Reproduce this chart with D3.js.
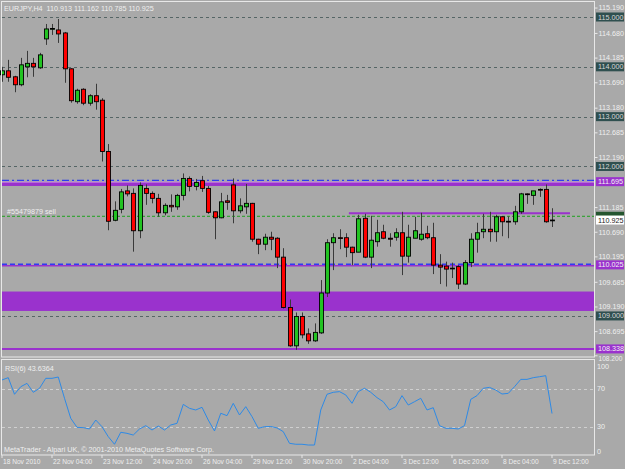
<!DOCTYPE html>
<html><head><meta charset="utf-8">
<script src="https://cdn.jsdelivr.net/npm/d3@7/dist/d3.min.js"></script>
<style>body{margin:0;background:#a9a9a9}svg{display:block}</style>
</head><body><svg id="c" width="625" height="469"></svg>
<script>
// ---- data ----
const opens = [113.84,113.92,113.80,113.64,114.00,114.07,113.98,114.56,114.76,114.74,114.68,113.96,113.30,113.55,113.27,113.42,113.33,112.30,110.92,111.14,111.51,111.46,110.71,111.56,111.46,111.36,111.07,111.22,111.19,111.42,111.76,111.60,111.715,111.56,111.09,110.97,111.31,111.63,111.11,111.19,111.26,110.54,110.44,110.58,110.56,110.18,109.17,108.40,108.99,108.64,108.50,108.66,109.46,110.47,110.57,110.57,110.38,110.28,110.96,110.18,110.49,110.69,110.56,110.58,110.67,110.20,110.56,110.54,110.65,110.57,110.02,110.00,109.96,109.99,109.64,110.07,110.54,110.69,110.74,110.69,110.99,110.90,110.89,111.09,111.45,111.42,111.54,111.54,110.913];
const highs = [114.00,114.14,113.82,114.18,114.32,114.18,114.28,114.86,114.86,114.96,114.70,113.97,113.56,113.57,113.45,113.66,113.37,112.45,111.30,111.55,111.62,111.56,111.68,111.64,111.50,111.45,111.26,111.44,111.45,111.86,111.80,111.75,111.81,111.61,111.10,111.47,111.43,111.76,111.36,111.65,111.27,110.55,110.65,110.69,110.58,110.36,109.33,109.07,109.07,108.75,108.85,109.72,110.54,110.66,110.74,110.66,110.39,111.03,111.05,111.01,110.93,110.83,110.66,110.76,111.09,110.83,110.99,111.07,110.81,110.87,110.24,110.09,110.07,110.02,110.12,110.66,110.87,111.05,111.09,111.03,111.00,111.00,111.21,111.47,111.46,111.51,111.56,111.64,111.162];
const lows = [113.70,113.70,113.49,113.61,113.79,113.80,113.96,114.44,114.64,114.48,113.68,113.28,113.26,113.23,113.22,113.14,112.10,110.72,110.90,111.06,111.40,110.29,110.56,111.23,111.26,110.99,111.02,111.09,111.13,111.32,111.50,111.52,111.49,111.05,110.54,110.96,111.13,110.86,111.06,111.05,110.49,110.24,110.32,110.32,109.96,109.15,108.38,108.32,108.55,108.44,108.48,108.64,109.38,109.92,110.34,110.18,110.02,110.28,110.16,109.96,110.39,110.54,110.39,110.51,109.82,110.07,110.56,110.51,110.54,109.84,109.64,109.59,109.76,109.54,109.62,109.98,110.27,110.56,110.49,110.49,110.60,110.56,110.83,111.05,111.25,111.23,111.39,110.87,110.785];
const closes = [113.92,113.79,113.64,114.04,114.07,114.00,114.24,114.76,114.77,114.66,113.96,113.32,113.53,113.27,113.42,113.30,112.30,110.90,111.12,111.49,111.45,110.71,111.62,111.46,111.36,111.07,111.22,111.19,111.42,111.76,111.60,111.68,111.56,111.08,110.97,111.29,111.28,111.11,111.21,111.26,110.54,110.44,110.58,110.54,110.18,109.17,108.40,108.99,108.62,108.50,108.67,109.46,110.47,110.57,110.56,110.38,110.27,110.95,110.18,110.52,110.67,110.56,110.54,110.67,110.20,110.58,110.71,110.64,110.57,110.02,109.98,109.94,109.95,109.64,110.07,110.54,110.67,110.74,110.69,110.99,110.89,110.89,111.09,111.45,111.44,111.51,111.53,110.89,110.925];
const rsi = [79,81.4,63.9,71.9,75.4,66,70.2,80.7,80.7,82.1,59.7,38.6,29.1,28.8,27.4,36.8,29.8,19.3,11.3,23.9,22.8,21,27.4,30.9,26.3,30.5,26.3,31.6,33.3,53.3,49.1,47.4,50.2,36.8,25.3,43.9,41.4,54.4,42.1,50.9,40.4,28.1,29.8,30,28.5,24.6,12.3,11.3,11.3,10.5,10.5,47.4,63.9,66,66.7,63.2,54.4,66.7,70.2,66,60.4,56.1,47.4,50.9,62.5,52.6,56.1,59.7,47.4,49.8,30.9,28.1,28.1,27.4,30.9,58.6,62.5,70.2,71.2,68.4,64.2,64.9,71.9,79.6,79.6,81.4,82.4,83.5,43.6364];
const timeTickIdx = [0,8,16,24,32,40,48,56,64,72,80,88];
const timeTickLbl = ["18 Nov 2010","22 Nov 04:00","23 Nov 12:00","24 Nov 20:00","26 Nov 04:00","29 Nov 12:00","30 Nov 20:00","2 Dec 04:00","3 Dec 12:00","6 Dec 20:00","8 Dec 04:00","9 Dec 12:00"];
const priceTicks = [115.190,114.680,114.185,113.690,113.180,112.685,112.190,111.185,110.690,110.195,109.685,109.190,108.695];
const bottomTick = 108.200;
const grayLevels = [115.000,114.000,113.000,112.000,109.000];
const purpleLevels = [111.695,110.025,108.338];
const zoneLow = 109.10, zoneHigh = 109.49;
const sellLevel = 111.000, trendLevel = 111.06, trendStart = 55.5;
const bid = 110.925;
const rsiTicks = [100,70,30,0];

// ---- drawing ----
const svg = d3.select('#c');
const FONT = "'Liberation Sans', Arial, sans-serif";
const W0 = 2, W1 = 594.5;
const x = d3.scaleLinear().domain([0, 88]).range([2, 552]);
const y = d3.scaleLinear().domain([108.2, 115]).range([355.8, 17]);
const yr = d3.scaleLinear().domain([0, 100]).range([455, 360]);
const PURPLE = '#9a32cd', BLUE = '#2f3cf0', SLATE = '#2f4f4f';
const TXT = '#efefef';

svg.append('rect').attr('width',625).attr('height',469).attr('fill','#a9a9a9');

// purple zone
svg.append('rect').attr('x',W0).attr('width',W1-W0)
  .attr('y',y(zoneHigh)).attr('height',y(zoneLow)-y(zoneHigh)).attr('fill',PURPLE);

// gray dashed levels
svg.selectAll('.gl').data(grayLevels).enter().append('line')
  .attr('x1',W0).attr('x2',W1).attr('y1',d=>Math.round(y(d))+0.5).attr('y2',d=>Math.round(y(d))+0.5)
  .attr('stroke','#556565').attr('stroke-dasharray','3,3').attr('stroke-width',1);

// 111.695 band
const b1 = purpleLevels[0];
svg.append('line').attr('x1',W0).attr('x2',W1).attr('y1',y(b1)-1.2).attr('y2',y(b1)-1.2)
  .attr('stroke',BLUE).attr('stroke-width',1.2).attr('stroke-dasharray','7,3,2,3');
svg.append('rect').attr('x',W0).attr('width',W1-W0).attr('y',y(b1)+0.3).attr('height',4).attr('fill',PURPLE);
svg.append('line').attr('x1',W0).attr('x2',W1).attr('y1',y(b1)+0.5).attr('y2',y(b1)+0.5)
  .attr('stroke','#c78be3').attr('stroke-width',1);
// 110.025
const b2 = purpleLevels[1];
svg.append('line').attr('x1',W0).attr('x2',W1).attr('y1',y(b2)-0.6).attr('y2',y(b2)-0.6)
  .attr('stroke',BLUE).attr('stroke-width',1.3).attr('stroke-dasharray','5,3');
svg.append('line').attr('x1',W0).attr('x2',W1).attr('y1',y(b2)+0.9).attr('y2',y(b2)+0.9)
  .attr('stroke',PURPLE).attr('stroke-width',1.4);
// 108.338
svg.append('line').attr('x1',W0).attr('x2',W1).attr('y1',y(purpleLevels[2])).attr('y2',y(purpleLevels[2]))
  .attr('stroke',PURPLE).attr('stroke-width',2);
// trend segment
svg.append('line').attr('x1',x(trendStart)).attr('x2',570).attr('y1',y(trendLevel)).attr('y2',y(trendLevel))
  .attr('stroke',PURPLE).attr('stroke-width',2);
// sell order line
svg.append('line').attr('x1',W0).attr('x2',W1).attr('y1',y(sellLevel)).attr('y2',y(sellLevel))
  .attr('stroke','#1fa31f').attr('stroke-width',1).attr('stroke-dasharray','3,2');
svg.append('text').attr('x',7).attr('y',y(sellLevel)-4.5).text('#55479879 sell')
  .attr('fill',TXT).attr('font-family',FONT).attr('font-size',7.2).attr('dominant-baseline','central');

// candles
const idx = d3.range(opens.length);
const cg = svg.append('g');
cg.selectAll('.wick').data(idx).enter().append('line')
  .attr('x1',i=>Math.round(x(i))+0.5).attr('x2',i=>Math.round(x(i))+0.5)
  .attr('y1',i=>y(highs[i])).attr('y2',i=>y(lows[i]))
  .attr('stroke','#3a3a3a').attr('stroke-width',1);
cg.selectAll('.body').data(idx).enter().append('rect')
  .attr('x',i=>Math.round(x(i))-1.5).attr('width',4)
  .attr('y',i=>Math.min(y(opens[i]),y(closes[i])))
  .attr('height',i=>Math.max(0.8,Math.abs(y(opens[i])-y(closes[i]))))
  .attr('fill',i=>closes[i]>=opens[i]?'#22c322':'#ff0000')
  .attr('stroke','#000').attr('stroke-width',0.9);

// frames
svg.append('rect').attr('x',1.5).attr('y',1.5).attr('width',W1-1.5).attr('height',355.5)
  .attr('fill','none').attr('stroke','#e8e8e8').attr('stroke-width',1);
svg.append('rect').attr('x',1.5).attr('y',359.5).attr('width',W1-1.5).attr('height',95.5)
  .attr('fill','none').attr('stroke','#e8e8e8').attr('stroke-width',1);

// price axis
const pa = svg.append('g').attr('transform',`translate(${W1},0)`)
  .call(d3.axisRight(y).tickValues(priceTicks).tickSize(3).tickPadding(1).tickFormat(d3.format('.3f')));
pa.select('.domain').remove();
pa.selectAll('line').attr('stroke','#e8e8e8');
pa.selectAll('text').attr('fill',TXT).attr('font-family',FONT).attr('font-size',7.2);
// bottom-most price label sits just under the frame corner
svg.append('line').attr('x1',W1).attr('x2',W1+3).attr('y1',y(bottomTick)).attr('y2',y(bottomTick)).attr('stroke','#e8e8e8');
svg.append('text').attr('x',W1+4).attr('y',y(bottomTick)+2.6).attr('dominant-baseline','central')
  .text(d3.format('.3f')(bottomTick)).attr('fill',TXT).attr('font-family',FONT).attr('font-size',6.6);

// boxed labels
function box(v, bg, fg, h){
  h = h || 9;
  const g = svg.append('g').attr('transform',`translate(596,${y(v)})`);
  g.append('rect').attr('x',0).attr('y',-h/2).attr('width',28).attr('height',h).attr('fill',bg);
  g.append('text').attr('x',2).attr('y',0).attr('dominant-baseline','central').text(d3.format('.3f')(v))
    .attr('fill',fg).attr('font-family',FONT).attr('font-size',7.2);
}
grayLevels.forEach(v=>box(v,SLATE,'#d8d8d8'));
purpleLevels.forEach(v=>box(v,PURPLE,'#f4f4f4'));
// order label mostly hidden under the bid label
(function(){
  const g = svg.append('g').attr('transform',`translate(596,${y(sellLevel)})`);
  g.append('rect').attr('x',0).attr('y',-4.5).attr('width',28).attr('height',9).attr('fill','#24552f');
})();
box(bid,'#ffffff','#222');

// RSI
[70,30].forEach(v=>svg.append('line').attr('x1',W0).attr('x2',W1).attr('y1',Math.round(yr(v))+0.5).attr('y2',Math.round(yr(v))+0.5)
  .attr('stroke','#cfcfcf').attr('stroke-dasharray','3,3'));
svg.append('path').datum(idx).attr('fill','none').attr('stroke','#2e8ae6').attr('stroke-width',1)
  .attr('d',d3.line().x(i=>x(i)).y(i=>yr(rsi[i])));
const rsiLblY = {100:366, 70:yr(70), 30:yr(30), 0:451};
rsiTicks.forEach(v=>svg.append('text').attr('x',597).attr('y',rsiLblY[v]).attr('dominant-baseline','central')
  .text(v).attr('fill',TXT).attr('font-family',FONT).attr('font-size',7.2));
svg.append('text').attr('x',5).attr('y',368.5).attr('dominant-baseline','central').text('RSI(6) 43.6364')
  .attr('fill',TXT).attr('font-family',FONT).attr('font-size',7.2);

// time axis
const ta = svg.append('g').attr('transform','translate(0,455)')
  .call(d3.axisBottom(x).tickValues(timeTickIdx).tickSize(3).tickFormat((d,i)=>timeTickLbl[i]));
ta.select('.domain').remove();
ta.selectAll('line').attr('stroke','#e8e8e8').attr('transform','translate(-0.5,0)');
ta.selectAll('text').attr('fill',TXT).attr('font-family',FONT).attr('font-size',6.6)
  .attr('text-anchor','start').attr('dx',0.5).attr('y',4);

// texts
svg.append('text').attr('x',4).attr('y',8).attr('dominant-baseline','central')
  .text('EURJPY,H4  110.913 111.162 110.785 110.925').attr('fill',TXT).attr('font-family',FONT).attr('font-size',7.2)
  .attr('xml:space','preserve').style('white-space','pre');
svg.append('text').attr('x',4).attr('y',449).attr('dominant-baseline','central')
  .text('MetaTrader - Alpari UK, © 2001-2010 MetaQuotes Software Corp.').attr('fill',TXT).attr('font-family',FONT).attr('font-size',7.2);
</script></body></html>
